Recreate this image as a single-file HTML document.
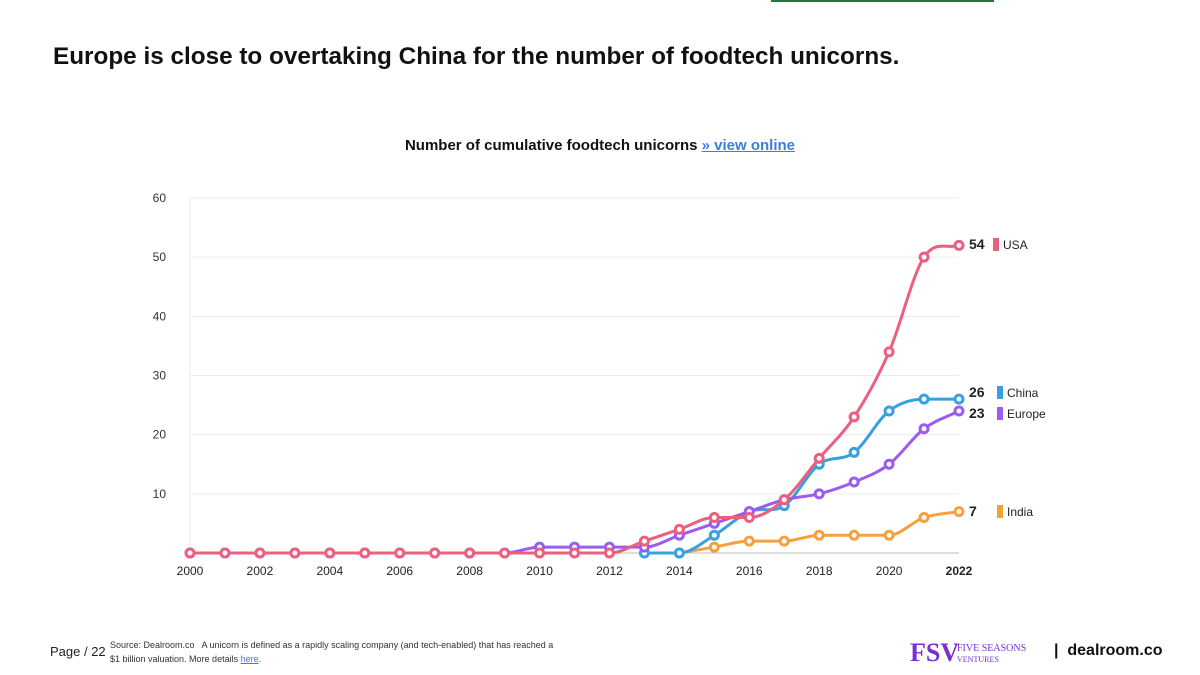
<!DOCTYPE html>
<html><head><meta charset="utf-8"><style>
body{margin:0;width:1200px;height:675px;background:#fff;font-family:"Liberation Sans",sans-serif;position:relative;overflow:hidden}
.t{position:absolute;white-space:nowrap}
</style></head><body>
<div class="t" style="left:53px;top:43px;font-size:24.3px;font-weight:bold;color:#111">Europe is close to overtaking China for the number of foodtech unicorns.</div>
<div style="position:absolute;left:771px;top:0;width:223px;height:2px;background:#1a7a3a"></div>
<div class="t" style="left:0;width:1200px;text-align:center;top:137px;font-size:15px;font-weight:bold;color:#111">Number of cumulative foodtech unicorns <a style="color:#3b7de0;text-decoration:underline">» view online</a></div>
<svg id="c" width="1200" height="675" style="position:absolute;left:0;top:0"></svg>
<div class="t" style="left:50px;top:644px;font-size:13px;color:#222">Page / 22</div>
<div class="t" style="left:110px;top:638px;font-size:9px;line-height:14px;color:#333">Source: Dealroom.co &nbsp; A unicorn is defined as a rapidly scaling company (and tech-enabled) that has reached a<br>$1 billion valuation. More details <a style="color:#3b7de0;text-decoration:underline">here</a>.</div>
<div class="t" style="left:910px;top:638px;font-family:'Liberation Serif',serif;color:#7b2fd0"><span style="font-size:26px;font-weight:bold">FSV</span></div>
<div class="t" style="left:957px;top:643px;font-family:'Liberation Serif',serif;color:#7b2fd0;font-size:10px;line-height:11px">FIVE SEASONS<br><span style="font-size:8px">VENTURES</span></div>
<div class="t" style="left:1054px;top:642px;font-size:16px;font-weight:bold;color:#111">| &nbsp;dealroom.co</div>
<script>
const years=[2000,2001,2002,2003,2004,2005,2006,2007,2008,2009,2010,2011,2012,2013,2014,2015,2016,2017,2018,2019,2020,2021,2022];
const usa=[0,0,0,0,0,0,0,0,0,0,0,0,0,2,4,6,6,9,16,23,34,50,52];
const china=[null,null,null,null,null,null,null,null,null,null,null,null,null,0,0,3,7,8,15,17,24,26,26];
const europe=[0,0,0,0,0,0,0,0,0,0,1,1,1,1,3,5,7,9,10,12,15,21,24];
const india=[null,null,null,null,null,null,null,null,null,null,null,null,null,null,0,1,2,2,3,3,3,6,7];
const yTicks=[10,20,30,40,50,60];
const xTicks=[2000,2002,2004,2006,2008,2010,2012,2014,2016,2018,2020,2022];
const endLabels=["54","26","23","7"];
const seriesNames=["USA","China","Europe","India"];
const svg=document.getElementById('c'),NS='http://www.w3.org/2000/svg';
const X=y=>190+(y-2000)*(959-190)/22, Y=v=>553-v*(553-198)/60;
function el(t,a,p){const e=document.createElementNS(NS,t);for(const k in a)e.setAttribute(k,a[k]);(p||svg).appendChild(e);return e}
yTicks.forEach(v=>{const l=el('line',{x1:190,x2:959,y1:Y(v),y2:Y(v),stroke:'#ebebeb'});


const t=el('text',{x:166,y:Y(v)+4,'text-anchor':'end','font-size':12,fill:'#333'});t.textContent=v;

});
el('line',{x1:190,x2:959,y1:553,y2:553,stroke:'#bbb'});
el('line',{x1:190,x2:190,y1:198,y2:553,stroke:'#eee'});
xTicks.forEach(v=>{const t=el('text',{x:X(v),y:575,'text-anchor':'middle','font-size':12,fill:'#222','font-weight':v==2022?'bold':'normal'});t.textContent=v;

});
function path(pts){if(pts.length<2)return'';const n=pts.length,d=[],m=[];
for(let i=0;i<n-1;i++)d.push((pts[i+1][1]-pts[i][1])/(pts[i+1][0]-pts[i][0]));
m[0]=d[0];m[n-1]=d[n-2];for(let i=1;i<n-1;i++)m[i]=d[i-1]*d[i]<=0?0:(d[i-1]+d[i])/2;
for(let i=0;i<n-1;i++){if(d[i]==0){m[i]=0;m[i+1]=0;}}
let s='M'+pts[0][0]+','+pts[0][1];
for(let i=0;i<n-1;i++){const h=(pts[i+1][0]-pts[i][0])/3;s+=' C'+(pts[i][0]+h)+','+(pts[i][1]+m[i]*h)+' '+(pts[i+1][0]-h)+','+(pts[i+1][1]-m[i+1]*h)+' '+pts[i+1][0]+','+pts[i+1][1];}
return s;}
const all=[[india,'#f5a03c'],[china,'#37a0e0'],[europe,'#9b5cf0'],[usa,'#ec5f7e']];
all.forEach(([vals,col])=>{const pts=[];vals.forEach((v,i)=>{if(v!==null)pts.push([X(years[i]),Y(v)])});
const p=el('path',{d:path(pts),fill:'none',stroke:col,'stroke-width':3});


pts.forEach(q=>{const c=el('circle',{cx:q[0],cy:q[1],r:4,fill:'#fff',stroke:col,'stroke-width':3});

});});
const labY=[244,392,413,511],cols=['#ec5f7e','#37a0e0','#9b5cf0','#f5a03c'];
seriesNames.forEach((n,i)=>{const t=el('text',{x:969,y:labY[i]+5,'font-size':14,'font-weight':'bold',fill:'#222'});t.textContent=endLabels[i];


el('rect',{x:i==0?993:997,y:labY[i]-6,width:6,height:13,fill:cols[i]});
const l=el('text',{x:i==0?1003:1007,y:labY[i]+5,'font-size':12,fill:'#222'});l.textContent=n;

});
</script>
</body></html>
